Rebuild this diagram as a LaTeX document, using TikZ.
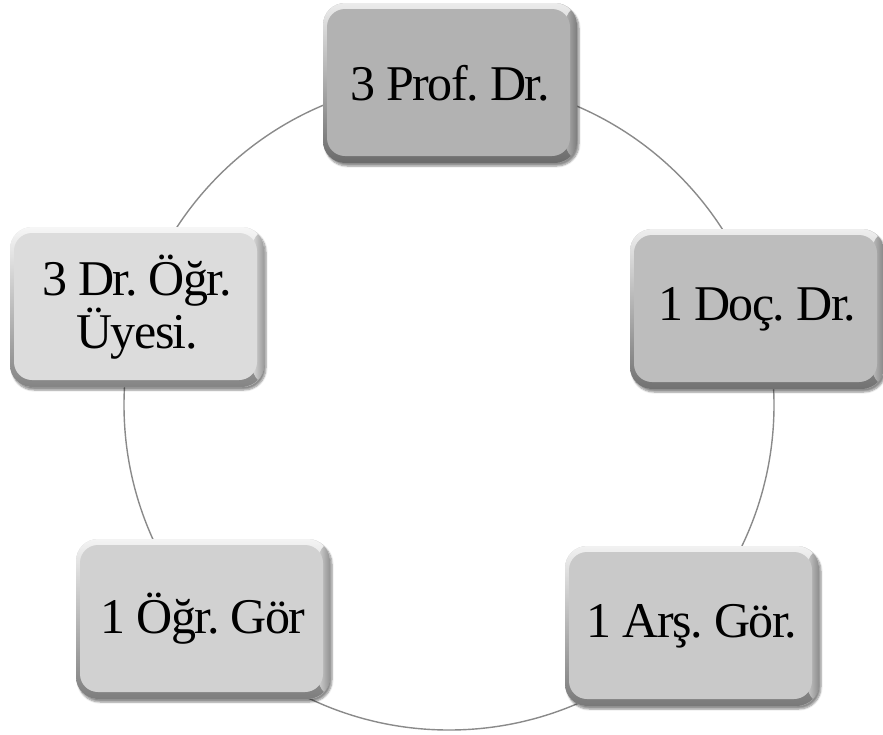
\documentclass[tikz,border=0pt]{standalone}
\usepackage{fontspec}
\setmainfont{Liberation Serif}[LetterSpace=-3]
\usetikzlibrary{shadows.blur}
\definecolor{cA}{HTML}{B2B2B2}
\definecolor{cB}{HTML}{BDBDBD}
\definecolor{cC}{HTML}{C9C9C9}
\definecolor{cD}{HTML}{D1D1D1}
\definecolor{cE}{HTML}{DCDCDC}
\definecolor{ringgray}{HTML}{8A8A8A}
\tikzset{
  stagebox/.style={
    rounded corners=22pt, minimum width=254pt, minimum height=160pt,
    inner sep=0pt, align=center, text=black,
    font=\fontsize{50}{48}\selectfont\frenchspacing,
    fill=#1,
    blur shadow={shadow xshift=2pt, shadow yshift=-3pt, shadow blur steps=6, shadow opacity=45, shadow blur extra rounding=2pt},
    path picture={
      \shade[top color=white!75!#1, bottom color=black!40!#1]
        (path picture bounding box.south west) rectangle (path picture bounding box.north east);
      \shade[left color=#1, right color=black!30!#1]
        ([xshift=-12pt]path picture bounding box.south east) rectangle (path picture bounding box.north east);
      \fill[#1, rounded corners=18pt]
        ([shift={(4pt,-6pt)}]path picture bounding box.north west)
        rectangle ([shift={(-7pt,7pt)}]path picture bounding box.south east);
    }
  },
  ring/.style={draw=ringgray, line width=1.4pt}
}
\begin{document}
\begin{tikzpicture}[x=1pt,y=1pt]
\useasboundingbox (0,0) rectangle (883,-734);
\coordinate (ctr) at (449,-405);
\draw[ring] (ctr) circle (325);
\node[stagebox=cA] (prof) at (450,-83) {3 Prof. Dr.};
\node[stagebox=cB] (doc) at (757,-309) {1 Doç. Dr.};
\node[stagebox=cC] (ars) at (692,-626) {1 Arş. Gör.};
\node[stagebox=cD] (ogr) at (203,-619) {1 Öğr. Gör};
\node[stagebox=cE] (dou) at (137,-307) {3 Dr. Öğr.\\Üyesi.};
\end{tikzpicture}
\end{document}
